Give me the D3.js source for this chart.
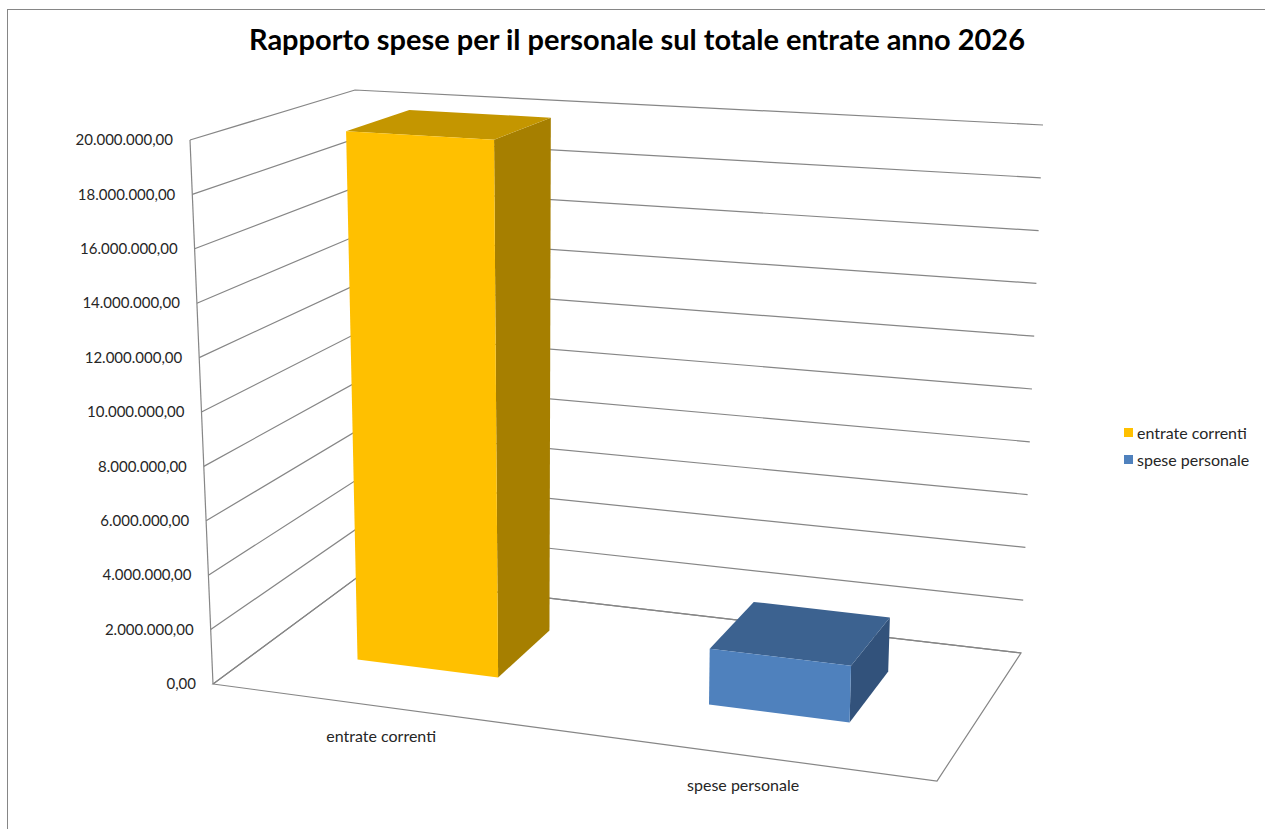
<!DOCTYPE html>
<html>
<head>
<meta charset="utf-8">
<script src="https://cdn.jsdelivr.net/npm/d3@7"></script>
<style>
  body { margin: 0; background: #ffffff; }
  text { font-family: Lato, "Open Sans", sans-serif; fill: #000; }
</style>
</head>
<body>
<svg id="chart"></svg>
<script>
const width = 1265, height = 829

// data
const categories = ["entrate correnti", "spese personale"]
const values = [19900000, 2010000]
const yTicks = [0, 2000000, 4000000, 6000000, 8000000, 10000000, 12000000, 14000000, 16000000, 18000000, 20000000]
const title = "Rapporto spese per il personale sul totale entrate anno 2026"

const colors = [
    {front: "#ffc000", top: "#c49600", side: "#a67f00"},
    {front: "#4f81bd", top: "#3c6290", side: "#32527b"}
]

// screen position of the plot cube corners, key = u v w (left/right, bottom/top, front/back)
const corners = {
    "000": [213, 684], "010": [190, 140], "001": [359, 576], "011": [355, 90],
    "100": [937, 781], "110": [957, 185], "101": [1021, 653], "111": [1043, 125]
}

function lerp(a, b, t) { return [a[0] + (b[0] - a[0]) * t, a[1] + (b[1] - a[1]) * t] }

// trilinear mapping of the unit cube onto the screen
function proj(u, v, w) {
    const c = k => corners[k]
    const bottom = lerp(lerp(c("000"), c("100"), u), lerp(c("001"), c("101"), u), w)
    const top = lerp(lerp(c("010"), c("110"), u), lerp(c("011"), c("111"), u), w)
    return lerp(bottom, top, v)
}

const x = d3.scaleBand()
    .domain(categories)
    .range([-0.015, 0.985])
    .paddingInner(0.6)
    .paddingOuter(0.3)

const y = d3.scaleLinear()
    .domain([0, 20000000])
    .range([0, 1])

const barFront = 0.34, barBack = 0.75

const it = d3.formatLocale({decimal: ",", thousands: ".", grouping: [3], currency: ["€", ""]})
const fmt = it.format(",.2f")

const line = d3.line()
const poly = pts => "M" + pts.map(p => p.join(",")).join("L") + "Z"

const svg = d3.select("svg#chart")
    .attr("width", width)
    .attr("height", height)
    .attr("viewBox", [0, 0, width, height])

svg.append("rect")
    .attr("x", 7.5).attr("y", 9.5)
    .attr("width", width + 20).attr("height", height + 20)
    .attr("fill", "#fff")
    .attr("stroke", "#868686")

const gridColor = "#868686"

// gridlines on the left wall and the back wall
const grid = svg.append("g")
    .attr("fill", "none")
    .attr("stroke", gridColor)
    .attr("stroke-width", 1.2)

grid.selectAll("path.grid")
    .data(yTicks)
    .enter()
    .append("path").attr("class", "grid")
    .attr("d", d => line([proj(0, y(d), 0), proj(0, y(d), 1), proj(1, y(d), 1)]))

// value axis line and floor outline
grid.append("path")
    .attr("d", line([proj(0, 0, 0), proj(0, 1, 0)]))
grid.append("path")
    .attr("d", poly([proj(0, 0, 0), proj(1, 0, 0), proj(1, 0, 1), proj(0, 0, 1)]))

// tick labels
svg.append("g")
    .selectAll("text")
    .data(yTicks)
    .enter()
    .append("text")
    .attr("x", d => proj(0, y(d), 0)[0] - 17)
    .attr("y", d => proj(0, y(d), 0)[1])
    .attr("dy", "0.35em")
    .attr("text-anchor", "end")
    .style("font-size", "15px")
    .style("fill", "#262626")
    .text(d => fmt(d))

// bars
const bars = svg.append("g")
    .selectAll("g.bar")
    .data(categories.map((c, i) => ({cat: c, value: values[i], color: colors[i]})))
    .enter()
    .append("g").attr("class", "bar")

bars.each(function (d) {
    const g = d3.select(this)
    const u0 = x(d.cat), u1 = x(d.cat) + x.bandwidth()
    const v1 = y(d.value)
    g.append("path")
        .attr("d", poly([proj(u1, 0, barFront), proj(u1, 0, barBack), proj(u1, v1, barBack), proj(u1, v1, barFront)]))
        .attr("fill", d.color.side)
    g.append("path")
        .attr("d", poly([proj(u0, v1, barFront), proj(u1, v1, barFront), proj(u1, v1, barBack), proj(u0, v1, barBack)]))
        .attr("fill", d.color.top)
    g.append("path")
        .attr("d", poly([proj(u0, 0, barFront), proj(u1, 0, barFront), proj(u1, v1, barFront), proj(u0, v1, barFront)]))
        .attr("fill", d.color.front)
})

// category labels
svg.append("g")
    .selectAll("text")
    .data(categories)
    .enter()
    .append("text")
    .attr("x", d => proj(x(d) + x.bandwidth() / 2, 0, 0)[0] - 2)
    .attr("y", d => proj(x(d) + x.bandwidth() / 2, 0, 0)[1] + 30)
    .attr("dy", "0.35em")
    .attr("text-anchor", "middle")
    .style("font-size", "16px")
    .style("fill", "#262626")
    .text(d => d)

// legend
const legend = svg.selectAll("g.legend")
    .data(categories)
    .enter()
    .append("g").attr("class", "legend")

legend.append("rect")
    .attr("x", 1124)
    .attr("y", (d, i) => 428 + i * 27)
    .attr("width", 9)
    .attr("height", 9)
    .attr("fill", (d, i) => colors[i].front)

legend.append("text")
    .attr("x", 1137)
    .attr("y", (d, i) => 433 + i * 27)
    .attr("dy", "0.35em")
    .style("font-size", "16px")
    .style("fill", "#262626")
    .text(d => d)

svg.append("text")
    .attr("x", 637)
    .attr("y", 50)
    .attr("text-anchor", "middle")
    .attr("textLength", 776)
    .attr("lengthAdjust", "spacingAndGlyphs")
    .style("font-size", "28px")
    .style("font-weight", "bold")
    .text(title)
</script>
</body>
</html>
